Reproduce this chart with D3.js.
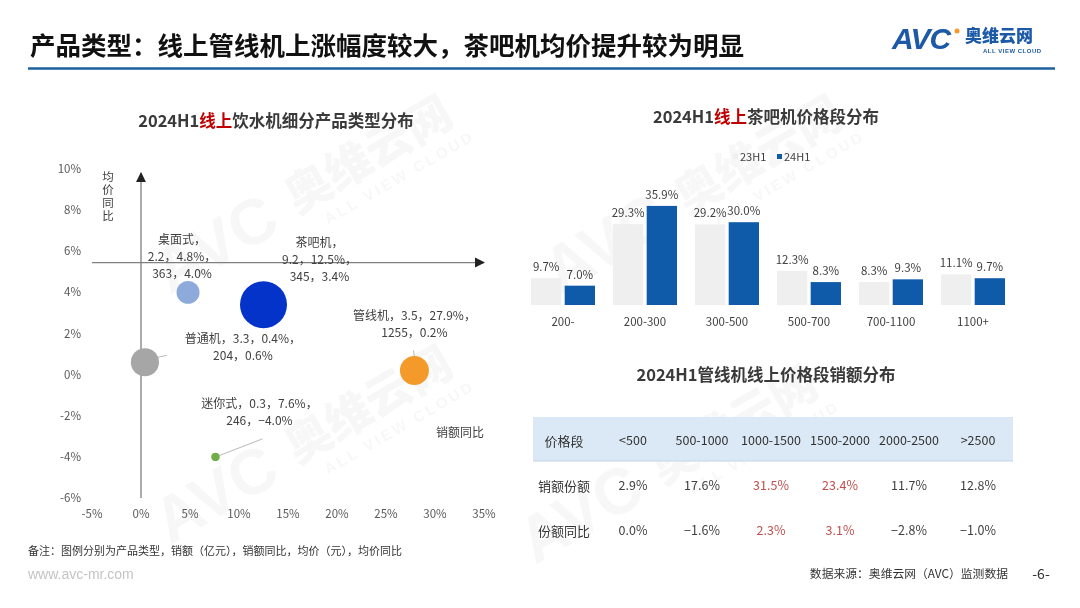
<!DOCTYPE html>
<html>
<head>
<meta charset="utf-8">
<script src="https://cdn.jsdelivr.net/npm/d3@7"></script>
<style>
body{margin:0;background:#fff;}
svg{display:block;font-family:"Noto Sans CJK SC","Noto Sans",sans-serif;}
</style>
</head>
<body>
<div class="canvas"></div>
<script>
// bubble chart data: type, sales (亿元), sales yoy, avg price (元), price yoy
const types=['桌面式','茶吧机','普通机','管线机','迷你式'];
const sales=[2.2,9.2,3.3,3.5,0.3];
const salesYoy=[4.8,12.5,0.4,27.9,7.6];
const avgPrice=[363,345,204,1255,246];
const priceYoy=[4.0,3.4,0.6,0.2,-4.0];
const xTicks=[-5,0,5,10,15,20,25,30,35];
const yTicks=[-6,-4,-2,0,2,4,6,8,10];

// tea bar price distribution
const teaBands=['200-','200-300','300-500','500-700','700-1100','1100+'];
const tea23=[9.7,29.3,29.2,12.3,8.3,11.1];
const tea24=[7.0,35.9,30.0,8.3,9.3,9.7];
const teaSeries=['23H1','24H1'];

// pipeline machine online price band table
const pipeBands=['<500','500-1000','1000-1500','1500-2000','2000-2500','>2500'];
const pipeShare=[2.9,17.6,31.5,23.4,11.7,12.8];
const pipeYoy=[0.0,-1.6,2.3,3.1,-2.8,-1.0];
const hotBands=['1000-1500','1500-2000'];

const W=1080,H=608;
const svg=d3.select('.canvas').append('svg')
  .attr('width',W).attr('height',H);
svg.append('rect').attr('width',W).attr('height',H).attr('fill','#fff');

const txt='#404040';
const fmt=d3.format('.1f');

//watermarks (faint)
const wm=svg.append('g').attr('fill','#000').attr('opacity',0.035);
const wmSpots=[[170,295],[560,295],[170,545],[535,565]];
wmSpots.forEach(p=>{
  const g=wm.append('g').attr('transform',`translate(${p[0]},${p[1]}) rotate(-30)`);
  g.append('text').attr('x',0).attr('y',0).attr('font-size',64).attr('font-weight',900)
    .attr('font-family','Liberation Sans, Arial').text('AVC');
  g.append('text').attr('x',150).attr('y',-6).attr('font-size',46).attr('font-weight',900).text('奥维云网');
  g.append('text').attr('x',172).attr('y',18).attr('font-size',15).attr('font-weight',700)
    .attr('letter-spacing',3).attr('font-family','Liberation Sans, Arial').text('ALL VIEW CLOUD');
});

// header
svg.append('text').attr('x',30).attr('y',55).attr('font-size',25.5).attr('font-weight',700)
  .attr('fill','#111').text('产品类型：线上管线机上涨幅度较大，茶吧机均价提升较为明显');
svg.append('line').attr('x1',28).attr('x2',1055).attr('y1',68.5).attr('y2',68.5)
  .attr('stroke','#1f5f9e').attr('stroke-width',2.5);

// logo
const logo=svg.append('g');
logo.append('text').attr('x',892).attr('y',49).attr('font-size',30).attr('font-weight',900)
  .attr('font-family','Liberation Sans, Arial').attr('font-style','italic')
  .attr('fill','#1c5aa8').attr('letter-spacing',-1).text('AVC');
logo.append('circle').attr('cx',957).attr('cy',31).attr('r',2.5).attr('fill','#f39a2b');
logo.append('text').attr('x',965).attr('y',42).attr('font-size',17).attr('font-weight',900)
  .attr('fill','#1c5aa8').text('奥维云网');
logo.append('text').attr('x',983).attr('y',53).attr('font-size',6).attr('font-weight',700)
  .attr('font-family','Liberation Sans, Arial').attr('letter-spacing',0.5)
  .attr('fill','#1c5aa8').text('ALL VIEW CLOUD');

// chart titles with red "线上"
const title=(x,y,parts)=>{
  const t=svg.append('text').attr('x',x).attr('y',y).attr('text-anchor','middle')
    .attr('font-size',16.5).attr('font-weight',700).attr('fill','#3a3a3a');
  parts.forEach(p=>t.append('tspan').attr('fill',p[1]||'#3a3a3a').text(p[0]));
};
title(276,127,[['2024H1'],['线上','#c00000'],['饮水机细分产品类型分布']]);
title(766,123,[['2024H1'],['线上','#c00000'],['茶吧机价格段分布']]);
title(766,381,[['2024H1管线机线上价格段销额分布']]);

/* ---------- bubble chart ---------- */
const x=d3.scaleLinear().domain([-5,35]).range([92,484]);
const y=d3.scaleLinear().domain([-6,10]).range([498,169]);
const r=d3.scaleSqrt().domain([0,9.2]).range([0,23.5]);
const crossY=5.45; // where the horizontal arrow axis sits

const bub=svg.append('g');
bub.selectAll('.yt').data(yTicks).enter().append('text')
  .attr('x',81).attr('y',d=>y(d)).attr('dy','0.35em').attr('text-anchor','end')
  .attr('font-size',11.5).attr('fill','#595959').text(d=>d+'%');
bub.selectAll('.xt').data(xTicks).enter().append('text')
  .attr('x',d=>x(d)).attr('y',514).attr('dy','0.35em').attr('text-anchor','middle')
  .attr('font-size',11.5).attr('fill','#595959').text(d=>d+'%');

// axes lines with arrows
const defs=svg.append('defs');
defs.append('marker').attr('id','arr').attr('viewBox','0 0 10 10').attr('refX',9).attr('refY',5)
  .attr('markerWidth',8).attr('markerHeight',8).attr('orient','auto')
  .append('path').attr('d','M0,0L10,5L0,10z').attr('fill','#222');
bub.append('line').attr('x1',x(0)).attr('x2',x(0)).attr('y1',y(-6)).attr('y2',y(9.8))
  .attr('stroke','#7f7f7f').attr('stroke-width',1.3).attr('marker-end','url(#arr)');
bub.append('line').attr('x1',x(-5)).attr('x2',x(35)).attr('y1',y(crossY)).attr('y2',y(crossY))
  .attr('stroke','#7f7f7f').attr('stroke-width',1.3).attr('marker-end','url(#arr)');

// axis names, y one written vertically
bub.append('text').attr('x',108).attr('y',171)
  .style('writing-mode','vertical-rl').attr('letter-spacing',1.5)
  .attr('font-size',11.5).attr('fill',txt).text('均价同比');
bub.append('text').attr('x',460).attr('y',437).attr('text-anchor','middle')
  .attr('font-size',12).attr('fill',txt).text('销额同比');

const bubColors=['#8eaadb','#0333c9','#a6a6a6','#f39a2b','#70ad47'];
// label offsets from bubble centre: [dx, dy of first line]
const labelOff=[[-6,-53],[56,-62],[98,-23],[0,-55],[44,-53]];
const leaders=[null,null,[[13,-5],[22,-7]],[[0,-14],[-1,-20]],[[3,-1],[47,-18]]];

const bdata=types.map((t,i)=>({t,s:sales[i],sy:salesYoy[i],p:avgPrice[i],py:priceYoy[i],i}));
bub.selectAll('circle.b').data(bdata).enter().append('circle')
  .attr('class','b')
  .attr('cx',d=>x(d.sy)).attr('cy',d=>y(d.py)).attr('r',d=>r(d.s))
  .attr('fill',d=>bubColors[d.i]);

bdata.forEach(d=>{
  const cx=x(d.sy),cy=y(d.py);
  const lead=leaders[d.i];
  if(lead){
    bub.append('line').attr('x1',cx+lead[0][0]).attr('y1',cy+lead[0][1])
      .attr('x2',cx+lead[1][0]).attr('y2',cy+lead[1][1])
      .attr('stroke','#a6a6a6').attr('stroke-width',0.8);
  }
  let lines;
  if(d.t==='桌面式'||d.t==='茶吧机'){
    lines=[d.t+'，',`${d.s}，${fmt(d.sy)}%，`,`${d.p}，${fmt(d.py)}%`];
  }else{
    lines=[`${d.t}，${d.s}，${fmt(d.sy)}%，`,`${d.p}，${fmt(d.py)}%`];
  }
  const off=labelOff[d.i];
  const t=bub.append('text').attr('text-anchor','middle').attr('font-size',12).attr('fill',txt);
  lines.forEach((l,k)=>t.append('tspan').attr('x',cx+off[0]).attr('y',cy+off[1]+k*17)
    .attr('dy','0.35em').text(l));
});

/* ---------- tea bar chart ---------- */
const xb=d3.scaleBand().domain(teaBands).range([522,1014]);
const xs=d3.scaleBand().domain(teaSeries).range([-32,32]).paddingInner(0.1);
const yb=d3.scaleLinear().domain([0,40]).range([305,194.6]);
const barColors={'23H1':'#efefef','24H1':'#0f5ba9'};
const barData=[];
teaBands.forEach((b,i)=>{
  barData.push({b,s:'23H1',v:tea23[i]});
  barData.push({b,s:'24H1',v:tea24[i]});
});
const bars=svg.append('g');
bars.selectAll('rect').data(barData).enter().append('rect')
  .attr('x',d=>xb(d.b)+xb.bandwidth()/2+xs(d.s))
  .attr('width',xs.bandwidth())
  .attr('y',d=>yb(d.v)).attr('height',d=>yb(0)-yb(d.v))
  .attr('fill',d=>barColors[d.s]);
bars.selectAll('text.v').data(barData).enter().append('text')
  .attr('x',d=>xb(d.b)+xb.bandwidth()/2+xs(d.s)+xs.bandwidth()/2)
  .attr('y',d=>yb(d.v)-7)
  .attr('text-anchor','middle').attr('font-size',11.5).attr('fill',txt)
  .text(d=>fmt(d.v)+'%');
bars.selectAll('text.c').data(teaBands).enter().append('text')
  .attr('x',d=>xb(d)+xb.bandwidth()/2).attr('y',322).attr('dy','0.35em')
  .attr('text-anchor','middle').attr('font-size',11.5).attr('fill',txt).text(d=>d);

// legend
const lg=svg.append('g');
teaSeries.forEach((s,i)=>{
  const lx=733+i*44;
  lg.append('rect').attr('x',lx).attr('y',154).attr('width',5).attr('height',5).attr('fill',barColors[s]);
  lg.append('text').attr('x',lx+7).attr('y',157).attr('dy','0.35em').attr('font-size',11)
    .attr('fill',txt).text(s);
});

/* ---------- table ---------- */
const cols=['价格段'].concat(pipeBands);
const xc=d3.scalePoint().domain(cols).range([564,978]);
const tb=svg.append('g');
tb.append('rect').attr('x',533).attr('y',417).attr('width',480).attr('height',44).attr('fill','#dbe8f5');
tb.append('line').attr('x1',533).attr('x2',1013).attr('y1',461).attr('y2',461)
  .attr('stroke','#c3d4e8').attr('stroke-width',1);
tb.selectAll('text.h').data(cols).enter().append('text')
  .attr('x',d=>xc(d)).attr('y',441).attr('dy','0.35em').attr('text-anchor','middle')
  .attr('font-size',d=>d==='价格段'?13:12.5).attr('fill','#333').text(d=>d);
const rows=[
  {name:'销额份额',vals:pipeShare,ry:486},
  {name:'份额同比',vals:pipeYoy,ry:531}
];
rows.forEach(row=>{
  tb.append('text').attr('x',xc('价格段')).attr('y',row.ry).attr('dy','0.35em')
    .attr('text-anchor','middle').attr('font-size',13).attr('fill','#333').text(row.name);
  tb.selectAll(null).data(pipeBands).enter().append('text')
    .attr('x',d=>xc(d)).attr('y',row.ry).attr('dy','0.35em').attr('text-anchor','middle')
    .attr('font-size',12.5)
    .attr('fill',d=>hotBands.includes(d)?'#c0504d':txt)
    .text((d,i)=>fmt(row.vals[i])+'%');
});

// footer
svg.append('text').attr('x',28).attr('y',555).attr('font-size',11).attr('fill','#333')
  .text('备注：图例分别为产品类型，销额（亿元），销额同比，均价（元），均价同比');
svg.append('text').attr('x',28).attr('y',579).attr('font-size',14).attr('fill','#c4c4c4')
  .attr('font-family','Liberation Sans, Arial').text('www.avc-mr.com');
svg.append('text').attr('x',1008).attr('y',578).attr('text-anchor','end').attr('font-size',11.8)
  .attr('fill','#333').text('数据来源：奥维云网（AVC）监测数据');
svg.append('text').attr('x',1041).attr('y',579).attr('text-anchor','middle').attr('font-size',14)
  .attr('fill','#333').text('-6-');
</script>
</body>
</html>
